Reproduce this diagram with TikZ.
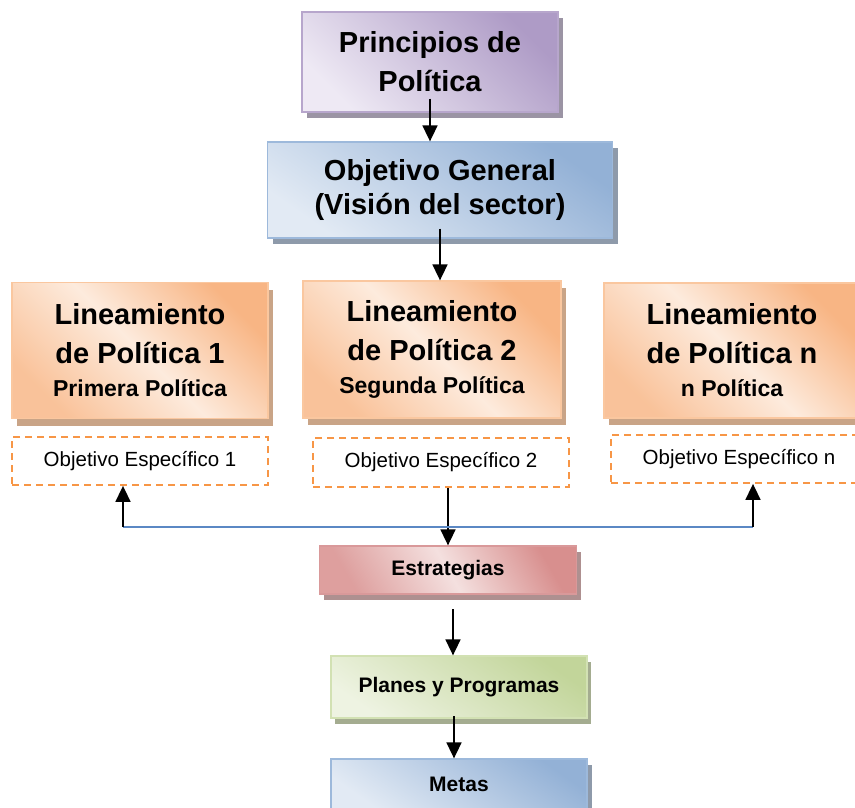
\documentclass[tikz,border=0pt]{standalone}
\usepackage{fontspec}
\setmainfont{Liberation Sans}
\usetikzlibrary{shadows,arrows.meta}
\newcommand\btext[2]{\vbox{\hsize=#1\centering #2\par}}
\definecolor{purD}{HTML}{AE9BC6}
\definecolor{purL}{HTML}{EEE9F4}
\definecolor{purB}{HTML}{B7A6CC}
\definecolor{purS}{HTML}{9B94A4}
\definecolor{bluD}{HTML}{93B1D6}
\definecolor{bluL}{HTML}{E2EAF4}
\definecolor{bluB}{HTML}{9DB9DB}
\definecolor{bluS}{HTML}{8E9AAA}
\definecolor{orgD}{HTML}{F8B584}
\definecolor{orgL}{HTML}{FDEBDD}
\definecolor{orgB}{HTML}{FAC79F}
\definecolor{orgS}{HTML}{C9A487}
\definecolor{redD}{HTML}{D88F8E}
\definecolor{redL}{HTML}{F4E0DF}
\definecolor{redB}{HTML}{D9999A}
\definecolor{redS}{HTML}{AE9090}
\definecolor{grnD}{HTML}{C2D59A}
\definecolor{grnL}{HTML}{EEF3E2}
\definecolor{grnB}{HTML}{D2E1B3}
\definecolor{grnS}{HTML}{A4AC90}
\definecolor{dashO}{HTML}{F79646}
\definecolor{lineB}{HTML}{5B88C4}
\begin{document}
\begin{tikzpicture}[x=1pt,y=-1pt,
  box/.style={inner sep=0pt, line width=1.3pt, font=\bfseries},
  purplebox/.style={box, draw=purB, top color=purD, bottom color=purL, shading angle=-45,
    drop shadow={shadow xshift=5pt, shadow yshift=-6pt, fill=purS, opacity=1}},
  bluebox/.style={box, draw=bluB, top color=bluD, bottom color=bluL, shading angle=-35,
    drop shadow={shadow xshift=5pt, shadow yshift=-6pt, fill=bluS, opacity=1}},
  orangebox/.style={box, draw=orgB, top color=orgD, bottom color=orgD!75!orgL, middle color=orgL, shading angle=-45,
    drop shadow={shadow xshift=5pt, shadow yshift=-7pt, fill=orgS, opacity=1}},
  redbox/.style={box, draw=redB, top color=redD, bottom color=redD!80!redL, middle color=redL, shading angle=-60,
    drop shadow={shadow xshift=4pt, shadow yshift=-6pt, fill=redS, opacity=1}},
  greenbox/.style={box, draw=grnB, top color=grnD, bottom color=grnL, shading angle=-35,
    drop shadow={shadow xshift=4pt, shadow yshift=-6pt, fill=grnS, opacity=1}},
  objbox/.style={inner sep=0pt, draw=dashO, fill=white, line width=1.8pt,
    dash pattern=on 7pt off 5pt, font=\fontsize{20.5}{24}\selectfont},
  arr/.style={-{Triangle[width=15pt,length=16pt]}, line width=1.7pt, black},
  blueline/.style={line width=1.5pt, lineB}
]
\useasboundingbox (0,0) rectangle (855,807);
\clip (0,0) rectangle (855,807);

\node[purplebox, minimum width=256pt, minimum height=100pt] (P) at (430,62)
  {\btext{256pt}{\fontsize{29}{39}\selectfont Principios de\par Política}};
\node[bluebox, minimum width=345pt, minimum height=96pt] (OG) at (440,190)
  {\btext{345pt}{\fontsize{29}{34}\selectfont Objetivo General\par (Visión del sector)}};

\node[orangebox, minimum width=256pt, minimum height=136pt] (L1) at (140,350.5)
  {\btext{256pt}{\fontsize{29}{39}\selectfont Lineamiento\par de Política 1\par
   \fontsize{23}{33}\selectfont Primera Política}};
\node[orangebox, minimum width=258pt, minimum height=137pt] (L2) at (432,349.5)
  {\btext{258pt}{\fontsize{29}{39}\selectfont Lineamiento\par de Política 2\par
   \fontsize{23}{33}\selectfont Segunda Política}};
\node[orangebox, minimum width=256pt, minimum height=135pt] (Ln) at (732,350.5)
  {\btext{256pt}{\fontsize{29}{39}\selectfont Lineamiento\par de Política n\par
   \fontsize{23}{33}\selectfont n Política}};

\node[objbox, minimum width=256pt, minimum height=48pt] (OE1) at (140,461) {Objetivo Específico 1};
\node[objbox, minimum width=256pt, minimum height=49pt] (OE2) at (441,462.5) {Objetivo Específico 2};
\node[objbox, minimum width=256pt, minimum height=48pt] (OEn) at (739,459) {Objetivo Específico n};

\node[redbox, minimum width=257pt, minimum height=48pt] (Es) at (448,570)
  {\fontsize{21}{25}\selectfont Estrategias};
\node[greenbox, minimum width=256pt, minimum height=62pt] (Pl) at (459,687)
  {\raisebox{4pt}{\fontsize{21}{25}\selectfont Planes y Programas}};
\node[bluebox, minimum width=256pt, minimum height=50pt] (Me) at (459,784)
  {\fontsize{21}{25}\selectfont Metas};

\draw[arr] ([yshift=14pt]P.south) -- (P.south |- OG.north);
\draw[arr] ([yshift=10pt]OG.south) -- (OG.south |- L2.north);
\draw[arr] (Es.north |- OE2.south) -- (Es.north);

\coordinate (j1) at (123,527);
\coordinate (jn) at (753,527);
\draw[blueline] (j1) -- (jn);
\draw[arr] (j1) -- (j1 |- OE1.south);
\draw[arr] (jn) -- (jn |- OEn.south);

\coordinate (a1) at (453,609);
\draw[arr] (a1) -- (a1 |- Pl.north);
\coordinate (a2) at (454,716);
\draw[arr] (a2) -- (a2 |- Me.north);
\end{tikzpicture}
\end{document}
